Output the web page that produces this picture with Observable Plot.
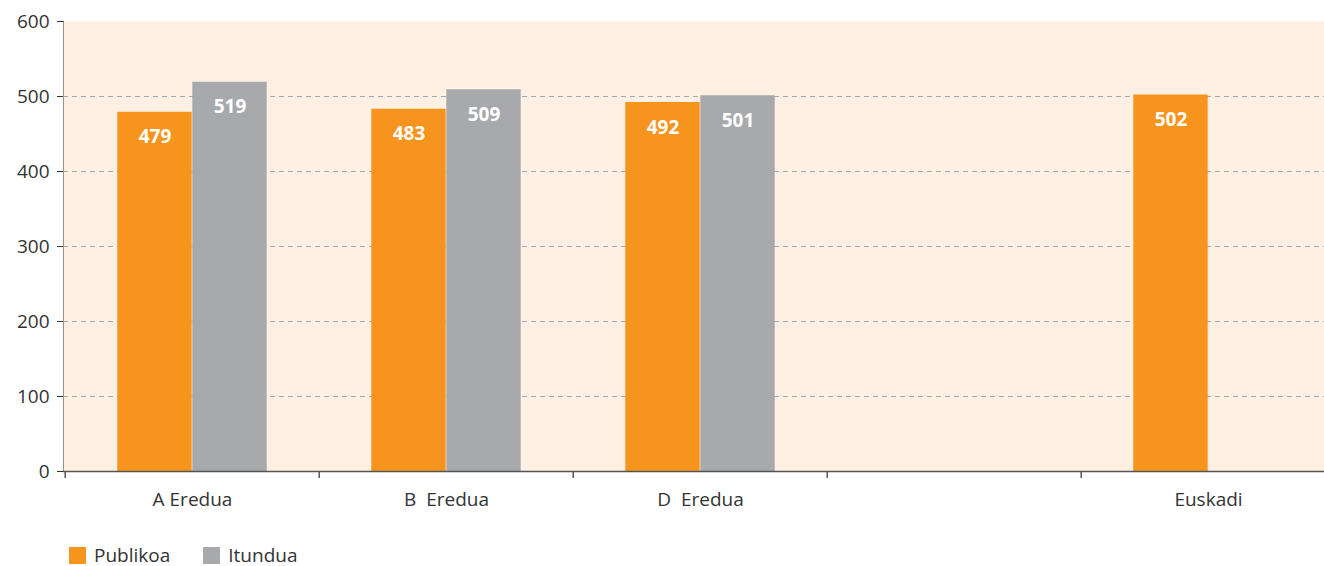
<!DOCTYPE html>
<html>
<head>
<meta charset="utf-8">
<script src="https://cdn.jsdelivr.net/npm/d3@7"></script>
<script src="https://cdn.jsdelivr.net/npm/@observablehq/plot@0.6"></script>
<style>
  html, body { margin: 0; padding: 0; background: #ffffff; }
  body { width: 1324px; height: 566px; overflow: hidden; font-family: "Open Sans", "Noto Sans", sans-serif; }
  #chart svg text { white-space: pre; }
  .legend { display: flex; align-items: center; margin-left: 69px; margin-top: 14px; font-size: 19px; line-height: 22px; color: #333; }
  .legend .item { display: flex; align-items: center; margin-right: 33px; }
  .legend .sw { width: 17px; height: 17px; margin-right: 8px; }
</style>
</head>
<body>
<div id="chart"></div>
<div class="legend" id="legend"></div>
<script>
const categories = ["A Eredua", "B  Eredua", "D  Eredua", "", "Euskadi"];
const seriesNames = ["Publikoa", "Itundua"];
const publikoa = [479, 483, 492, null, 502];
const itundua = [519, 509, 501, null, null];
const yTicks = [0, 100, 200, 300, 400, 500, 600];
const gridTicks = [100, 200, 300, 400, 500];
const colors = {Publikoa: "#F7941D", Itundua: "#A7A9AC"};

const rows = [];
categories.forEach((c, i) => {
  if (publikoa[i] != null) rows.push({cat: c, series: "Publikoa", value: publikoa[i]});
  if (itundua[i] != null) rows.push({cat: c, series: "Itundua", value: itundua[i]});
});
const pub = rows.filter(d => d.series === "Publikoa");
const itu = rows.filter(d => d.series === "Itundua");

const W = 1324, left = 63, rightEdge = 1336;
const bw = (rightEdge - left) / categories.length;
const barW = 75;
const inset = (bw - barW) / 2;

const chart = Plot.plot({
  width: W,
  height: 530,
  marginLeft: left,
  marginRight: 0,
  marginTop: 21,
  marginBottom: 59,
  style: {fontFamily: "'Open Sans', 'Noto Sans', sans-serif", fontSize: "19px", color: "#333", background: "transparent"},
  x: {domain: categories, range: [left, rightEdge], padding: 0, tickSize: 0, tickPadding: 21, label: null},
  y: {domain: [0, 600], ticks: yTicks, tickSize: 6, tickPadding: 8, label: null, line: true},
  marks: [
    Plot.frame({fill: "#FEF1E3", stroke: null}),
    Plot.ruleY(gridTicks, {stroke: "#A9A9A9", strokeDasharray: "5,4", strokeWidth: 1}),
    Plot.barY(pub, {x: "cat", y: "value", fill: colors.Publikoa, insetLeft: inset, insetRight: inset, dx: -barW / 2}),
    Plot.barY(itu, {x: "cat", y: "value", fill: colors.Itundua, insetLeft: inset, insetRight: inset, dx: barW / 2}),
    Plot.text(pub, {x: "cat", y: "value", text: d => String(d.value), dx: -barW / 2, dy: 25, fill: "white", fontWeight: "bold", fontSize: 19}),
    Plot.text(itu, {x: "cat", y: "value", text: d => String(d.value), dx: barW / 2, dy: 25, fill: "white", fontWeight: "bold", fontSize: 19}),
    Plot.ruleY([0], {stroke: "#555", strokeWidth: 1.5}),
    Plot.ruleX(categories, {x: d => d, dx: -bw / 2, y1: 0, y2: 0, insetBottom: -7, stroke: "#555", strokeWidth: 1.5})
  ]
});
document.getElementById("chart").appendChild(chart);

const legend = document.getElementById("legend");
seriesNames.forEach(s => {
  const it = document.createElement("div");
  it.className = "item";
  const sw = document.createElement("div");
  sw.className = "sw";
  sw.style.background = colors[s];
  const t = document.createElement("span");
  t.textContent = s;
  it.appendChild(sw);
  it.appendChild(t);
  legend.appendChild(it);
});
</script>
</body>
</html>
